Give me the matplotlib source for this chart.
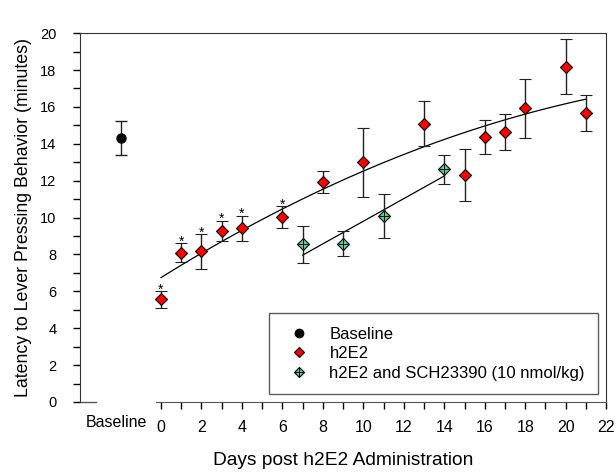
import matplotlib
matplotlib.use('Agg')
import matplotlib.pyplot as plt
from matplotlib.lines import Line2D
from matplotlib.transforms import blended_transform_factory
import numpy as np

plt.rcParams['font.family'] = ['Liberation Sans', 'DejaVu Sans']

# baseline group
base_x = [-2]
base_y = [14.3]
base_err = [0.93]

# h2E2 group
h2_days = [0, 1, 2, 3, 4, 6, 8, 10, 13, 15, 16, 17, 18, 20, 21]
h2_y = [5.56, 8.09, 8.16, 9.27, 9.41, 10.04, 11.94, 13.0, 15.09, 12.32, 14.37, 14.64, 15.94, 18.19, 15.67]
h2_err = [0.44, 0.52, 0.93, 0.55, 0.69, 0.58, 0.60, 1.87, 1.22, 1.42, 0.90, 1.00, 1.60, 1.50, 1.00]

# h2E2 + SCH23390
sch_days = [7, 9, 11, 14]
sch_y = [8.54, 8.58, 10.08, 12.62]
sch_err = [1.0, 0.68, 1.18, 0.80]

# days marked significant
star_days = [0, 1, 2, 3, 4, 6]

red = '#FF0000'
teal = '#45D8A5'
ecol = '#222222'

fig = plt.figure(figsize=(6.16, 4.74), dpi=100)
ax = fig.add_axes([0.13, 0.152, 0.854, 0.778])

# fitted curves
c2 = np.polyfit(h2_days, h2_y, 2)
xx = np.linspace(min(h2_days), max(h2_days), 100)
ax.plot(xx, np.polyval(c2, xx), color='black', lw=0.9, zorder=2)
c1 = np.polyfit(sch_days, sch_y, 1)
xs = np.array([min(sch_days), max(sch_days)])
ax.plot(xs, np.polyval(c1, xs), color='black', lw=0.9, zorder=2)

ekw = dict(ecolor=ecol, elinewidth=1, capsize=4, capthick=1, ls='none', zorder=3)
ax.errorbar(base_x, base_y, yerr=base_err, marker='o', ms=6.5, mfc='black', mec='black', **ekw)
ax.errorbar(h2_days, h2_y, yerr=h2_err, marker='D', ms=5.8, mfc=red, mec='black', mew=0.8, **ekw)
ax.errorbar(sch_days, sch_y, yerr=sch_err, marker='D', ms=5.8, mfc=teal, mec='black', mew=0.8, **ekw)
ax.plot(sch_days, sch_y, ls='none', marker='+', ms=7, mec='black', mew=0.7, zorder=4)

# asterisks
for d in star_days:
    i = h2_days.index(d)
    ax.text(d, h2_y[i] + h2_err[i] - 0.12, '*', ha='center', va='baseline', fontsize=10)

ax.set_xlim(-4, 22)
ax.set_ylim(0, 20)
ax.set_xticks(range(0, 23, 2))
ax.set_xticks(range(1, 23, 2), minor=True)
ax.set_yticks(range(0, 21, 2))
ax.set_yticks(range(1, 20, 2), minor=True)
ax.tick_params(axis='x', which='both', direction='out', length=5, width=1, pad=8, labelsize=11.5)
ax.tick_params(axis='y', which='both', direction='out', length=5, width=1, pad=12, labelsize=10.5)

for s in ['left', 'top', 'right']:
    ax.spines[s].set_color('#333333')
ax.spines['bottom'].set_bounds(-0.25, 22)
ax.spines['bottom'].set_color('#555555')
tr = blended_transform_factory(ax.transData, ax.transAxes)
ax.plot([-4, -3.2], [0, 0], color='#555555', lw=1, transform=tr, clip_on=False)
ax.text(-2.2, -0.0355, 'Baseline', transform=tr, ha='center', va='top', fontsize=11.5)

ax.set_xlabel('Days post h2E2 Administration', fontsize=13.8, labelpad=12)
ax.set_ylabel('Latency to Lever Pressing Behavior (minutes)', fontsize=12.8, labelpad=6)

h_base = Line2D([], [], ls='none', marker='o', ms=6, mfc='black', mec='black')
h_h2 = Line2D([], [], ls='none', marker='D', ms=5.3, mfc=red, mec='black', mew=0.8)
h_sd = Line2D([], [], ls='none', marker='D', ms=5.3, mfc=teal, mec='black', mew=0.8)
h_sp = Line2D([], [], ls='none', marker='+', ms=6.5, mec='black', mew=0.7)
leg = ax.legend([h_base, h_h2, (h_sd, h_sp)], ['Baseline', 'h2E2', 'h2E2 and SCH23390 (10 nmol/kg)'],
                loc='lower right', bbox_to_anchor=(0.985, 0.0217), fontsize=12, frameon=True,
                fancybox=False, edgecolor='#333333', borderpad=0.8, labelspacing=0.27,
                handletextpad=0.75, borderaxespad=0, handlelength=2.1)
leg.get_frame().set_linewidth(1)

fig.savefig('out.png', dpi=100)
